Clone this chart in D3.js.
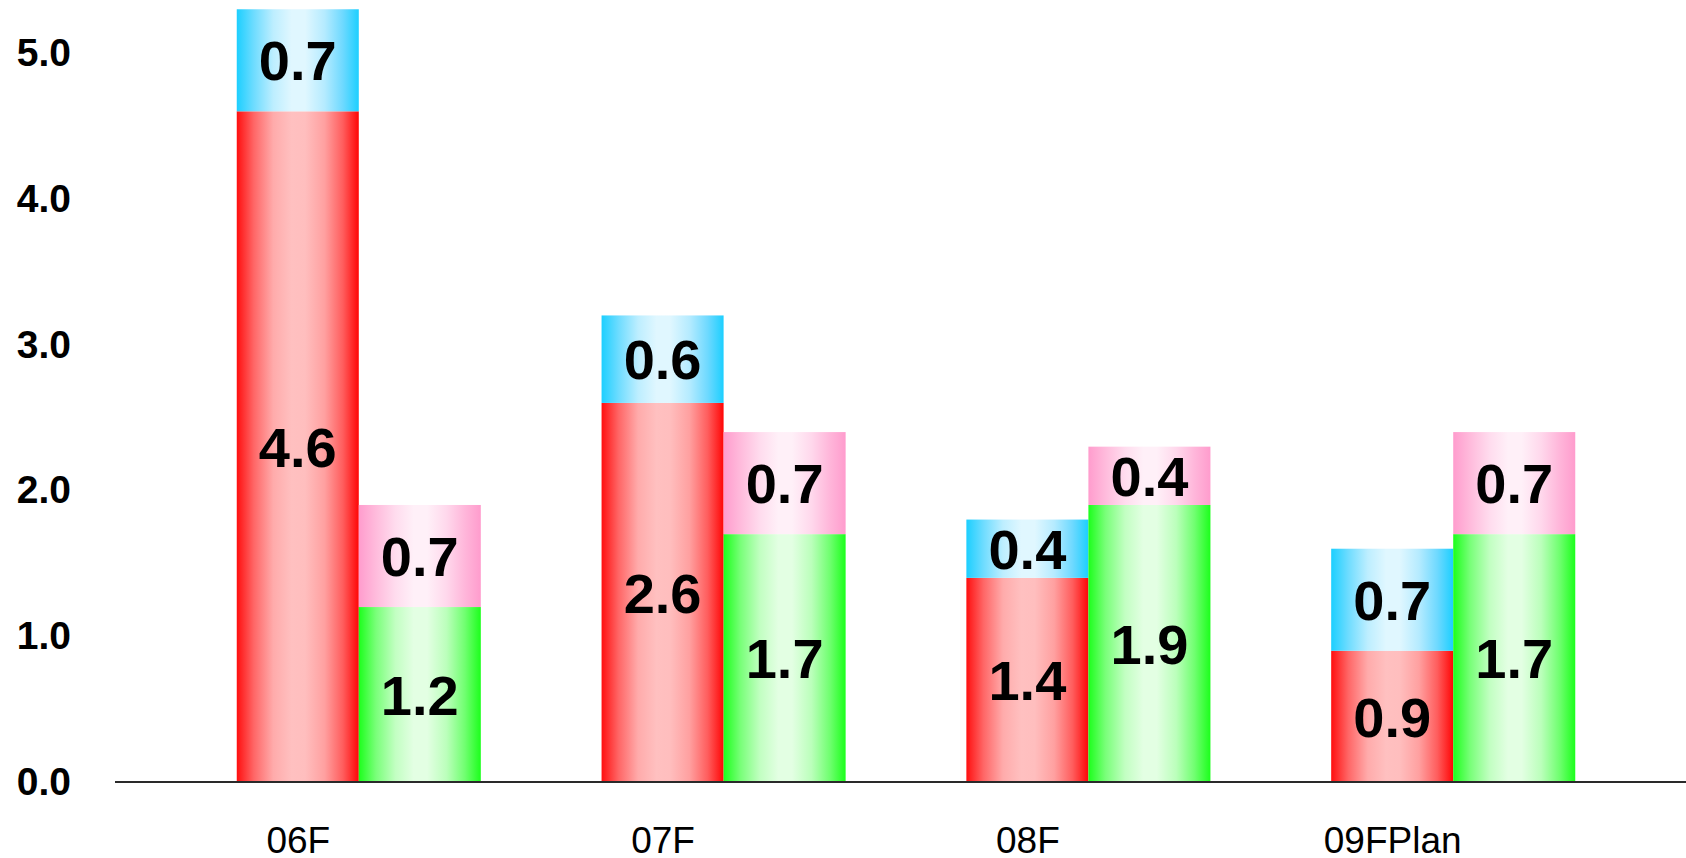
<!DOCTYPE html>
<html>
<head>
<meta charset="utf-8">
<script src="https://cdn.jsdelivr.net/npm/d3@7"></script>
<style>
  html, body { margin: 0; padding: 0; background: #ffffff; }
  svg { display: block; }
</style>
</head>
<body>
<svg id="chart" width="1686" height="858"></svg>
<script>
// Categories and stacked segment values
const categories = ["06F", "07F", "08F", "09FPlan"];
const redValues   = [4.6, 2.6, 1.4, 0.9];
const blueValues  = [0.7, 0.6, 0.4, 0.7];
const greenValues = [1.2, 1.7, 1.9, 1.7];
const pinkValues  = [0.7, 0.7, 0.4, 0.7];
const yTicks = [0, 1, 2, 3, 4, 5];

const width = 1686, height = 858;
const svg = d3.select("#chart");

// Horizontal "cylinder" style gradients
const gradients = {
  red:   [["0%", "#ff0f0f"], ["14%", "#ff6666"], ["30%", "#ffabab"], ["45%", "#ffc0c0"], ["56%", "#ffbebe"], ["72%", "#ffa0a0"], ["87%", "#ff5d5d"], ["100%", "#ff0606"]],
  blue:  [["0%", "#1ccfff"], ["14%", "#6edcff"], ["30%", "#bdeeff"], ["45%", "#e0f7ff"], ["56%", "#e0f7ff"], ["72%", "#b5ebff"], ["87%", "#6ed9ff"], ["100%", "#1ccfff"]],
  green: [["0%", "#1cff1c"], ["14%", "#79ff79"], ["30%", "#c2ffc2"], ["45%", "#e3ffe3"], ["56%", "#e3ffe3"], ["72%", "#bbffbb"], ["87%", "#70ff70"], ["100%", "#1cff1c"]],
  pink:  [["0%", "#ff9ccd"], ["14%", "#ffbbdc"], ["30%", "#ffdcee"], ["45%", "#fff0f8"], ["56%", "#fff0f8"], ["72%", "#ffd8ec"], ["87%", "#ffb6da"], ["100%", "#ff9ccd"]]
};
const defs = svg.append("defs");
Object.entries(gradients).forEach(([name, stops]) => {
  const g = defs.append("linearGradient")
    .attr("id", "grad-" + name)
    .attr("x1", "0").attr("y1", "0").attr("x2", "1").attr("y2", "0");
  stops.forEach(([off, col]) => g.append("stop").attr("offset", off).attr("stop-color", col));
});

// Scales
const x = d3.scaleBand()
  .domain(categories)
  .range([116, 1696])
  .paddingInner(0.331)
  .paddingOuter(0.331);
const sub = d3.scaleBand()
  .domain(["left", "right"])
  .range([0, x.bandwidth()]);
const y = d3.scaleLinear().domain([0, 5]).range([782, 53]);

// Build stacked segments: left column red+blue, right column green+pink
const segments = [];
categories.forEach((c, i) => {
  segments.push({ cat: c, col: "left",  y0: 0, y1: redValues[i], v: redValues[i], fill: "red" });
  segments.push({ cat: c, col: "left",  y0: redValues[i], y1: redValues[i] + blueValues[i], v: blueValues[i], fill: "blue" });
  segments.push({ cat: c, col: "right", y0: 0, y1: greenValues[i], v: greenValues[i], fill: "green" });
  segments.push({ cat: c, col: "right", y0: greenValues[i], y1: greenValues[i] + pinkValues[i], v: pinkValues[i], fill: "pink" });
});

svg.append("g")
  .selectAll("rect")
  .data(segments)
  .join("rect")
  .attr("x", d => x(d.cat) + sub(d.col))
  .attr("y", d => y(d.y1))
  .attr("width", sub.bandwidth())
  .attr("height", d => y(d.y0) - y(d.y1))
  .attr("fill", d => "url(#grad-" + d.fill + ")");

// Value labels centered in each segment
svg.append("g")
  .selectAll("text")
  .data(segments)
  .join("text")
  .attr("x", d => x(d.cat) + sub(d.col) + sub.bandwidth() / 2)
  .attr("y", d => (y(d.y0) + y(d.y1)) / 2)
  .attr("dy", "0.36em")
  .attr("text-anchor", "middle")
  .attr("font-family", "'Liberation Sans', Arial, sans-serif")
  .attr("font-weight", "bold")
  .attr("font-size", 56)
  .attr("fill", "#000")
  .text(d => d3.format(".1f")(d.v));

// Baseline
svg.append("line")
  .attr("x1", 115).attr("x2", width)
  .attr("y1", y(0)).attr("y2", y(0))
  .attr("stroke", "#2a2a2a")
  .attr("stroke-width", 2);

// Y axis labels (no axis line or ticks)
const yAxis = d3.axisLeft(y).tickValues(yTicks).tickFormat(d3.format(".1f")).tickSize(0).tickPadding(0);
const yg = svg.append("g").attr("transform", "translate(71,0)").call(yAxis);
yg.select(".domain").remove();
yg.selectAll("text")
  .attr("font-family", "'Liberation Sans', Arial, sans-serif")
  .attr("font-weight", "bold")
  .attr("font-size", 39)
  .attr("fill", "#000");

// X category labels, centered under the left column of each group
const xAxis = d3.axisBottom(d3.scalePoint().domain(categories)
  .range([x(categories[0]) + sub.bandwidth() / 2, x(categories[categories.length - 1]) + sub.bandwidth() / 2]))
  .tickSize(0).tickPadding(0);
const xg = svg.append("g").attr("transform", "translate(0,826)").call(xAxis);
xg.select(".domain").remove();
xg.selectAll("text")
  .attr("dy", "0.73em")
  .attr("font-family", "'Liberation Sans', Arial, sans-serif")
  .attr("font-size", 37)
  .attr("fill", "#000");
</script>
</body>
</html>
